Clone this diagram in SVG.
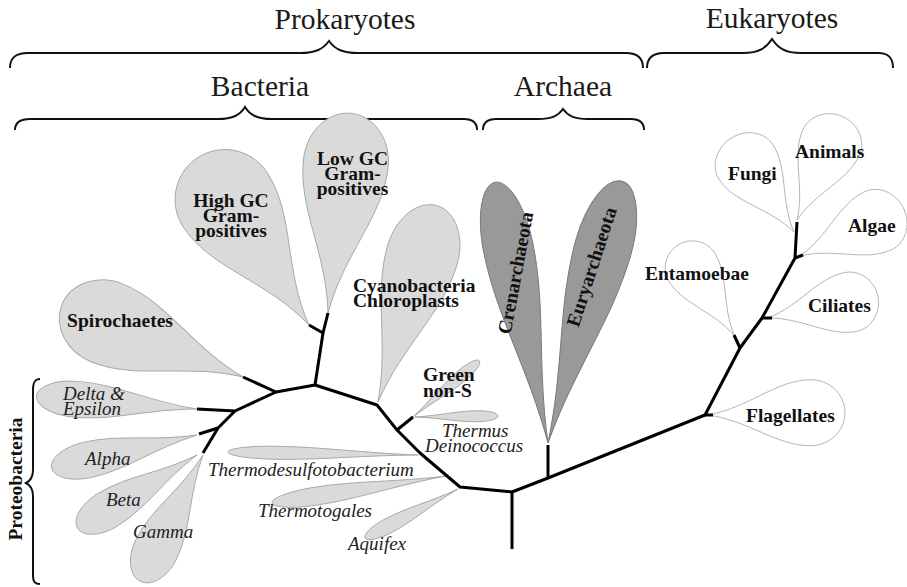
<svg xmlns="http://www.w3.org/2000/svg" width="907" height="587" viewBox="0 0 907 587">
  <style>
    .bg { fill: #ffffff; }
    .leaf { vector-effect: non-scaling-stroke; stroke-width: 1; }
    .leaf-b { fill: #dadada; stroke: #a8a8a8; }
    .leaf-a { fill: #999999; stroke: #7a7a7a; }
    .leaf-e { fill: #ffffff; stroke: #b4b4b4; }
    .branch { fill: none; stroke: #000000; stroke-width: 3; stroke-linejoin: round; stroke-linecap: butt; }
    .brace { fill: none; stroke: #111111; stroke-width: 2; }
    .title { font-family: "Liberation Serif", "Times New Roman", serif; font-size: 29.5px; fill: #1a1a1a; text-anchor: middle; }
    .bold { font-family: "Liberation Serif", "Times New Roman", serif; font-size: 19.5px; font-weight: bold; fill: #111111; }
    .ital { font-family: "Liberation Serif", "Times New Roman", serif; font-size: 19px; font-style: italic; fill: #222222; }
    .mid { text-anchor: middle; }
  </style>
  <rect class="bg" x="0" y="0" width="907" height="587"/>

  <!-- group braces and their titles -->
  <g id="prokaryotes">
    <path class="brace" d="M10,68 C10,58 15,53 28,53 L300,53 C316,53 323,49 329,41 C335,49 342,53 358,53 L626,53 C637,53 643,58 643,68"/>
    <text class="title" x="345" y="29">Prokaryotes</text>
  </g>
  <g id="eukaryotes">
    <path class="brace" d="M647,68 C647,58 652,53 664,53 L743,53 C759,53 766,48 772,39 C778,48 785,53 801,53 L878,53 C889,53 893,58 893,68"/>
    <text class="title" x="772" y="28">Eukaryotes</text>
  </g>
  <g id="bacteria">
    <path class="brace" d="M15,130 C15,123 19,119 30,119 L218,119 C233,119 240,115 245,107 C250,115 257,119 272,119 L464,119 C473,119 477,123 477,130"/>
    <text class="title" x="260" y="96">Bacteria</text>
  </g>
  <g id="archaea">
    <path class="brace" d="M483,130 C483,123 487,119 496,119 L538,119 C552,119 558,116 563,109 C568,116 574,119 588,119 L631,119 C640,119 644,123 644,130"/>
    <text class="title" x="563" y="96">Archaea</text>
  </g>
  <g id="proteobacteria">
    <path class="brace" d="M40,379 C35,379 33,382 33,390 L33,470 C33,477 30,481 26,483 C30,485 33,489 33,496 L33,575 C33,582 35,584 40,584"/>
    <text class="bold mid" transform="translate(22,479) rotate(-90)" x="0" y="0">Proteobacteria</text>
  </g>

  <!-- bacterial clades: each leaf is a unit teardrop (tip at origin, round end at x=1) placed by its transform -->
  <g id="spirochaetes">
    <path class="leaf leaf-b" transform="translate(243,377) rotate(-158.3) scale(195,84)" d="M0,0 C0.3,-0.1 0.5,-0.5 0.75,-0.5 C0.888,-0.5 1,-0.276 1,0 C1,0.276 0.888,0.5 0.75,0.5 C0.5,0.5 0.3,0.1 0,0 Z"/>
    <text class="bold mid" x="120" y="327">Spirochaetes</text>
  </g>
  <g id="high-gc">
    <path class="leaf leaf-b" transform="translate(309,325) rotate(-123.8) scale(201,100)" d="M0,0 C0.3,-0.1 0.5,-0.5 0.75,-0.5 C0.888,-0.5 1,-0.276 1,0 C1,0.276 0.888,0.5 0.75,0.5 C0.5,0.5 0.3,0.1 0,0 Z"/>
    <text class="bold mid" x="231" y="207">High GC</text>
    <text class="bold mid" x="231" y="222">Gram-</text>
    <text class="bold mid" x="231" y="237">positives</text>
  </g>
  <g id="low-gc">
    <path class="leaf leaf-b" transform="translate(328,313) rotate(-83.2) scale(201,85)" d="M0,0 C0.3,-0.1 0.5,-0.5 0.75,-0.5 C0.888,-0.5 1,-0.276 1,0 C1,0.276 0.888,0.5 0.75,0.5 C0.5,0.5 0.3,0.1 0,0 Z"/>
    <text class="bold mid" x="352.5" y="165">Low GC</text>
    <text class="bold mid" x="352.5" y="180">Gram-</text>
    <text class="bold mid" x="352.5" y="195">positives</text>
  </g>
  <g id="cyanobacteria">
    <path class="leaf leaf-b" transform="translate(378,402) rotate(-73.2) scale(205,72)" d="M0,0 C0.3,-0.1 0.5,-0.5 0.75,-0.5 C0.888,-0.5 1,-0.276 1,0 C1,0.276 0.888,0.5 0.75,0.5 C0.5,0.5 0.3,0.1 0,0 Z"/>
    <text class="bold" x="353" y="292">Cyanobacteria</text>
    <text class="bold" x="353" y="307">Chloroplasts</text>
  </g>
  <g id="green-non-s">
    <path class="leaf leaf-b" transform="translate(413,417) rotate(-40.3) scale(87,12)" d="M0,0 C0.3,-0.1 0.5,-0.5 0.75,-0.5 C0.888,-0.5 1,-0.276 1,0 C1,0.276 0.888,0.5 0.75,0.5 C0.5,0.5 0.3,0.1 0,0 Z"/>
    <text class="bold" x="423" y="381">Green</text>
    <text class="bold" x="423" y="397">non-S</text>
  </g>
  <g id="thermus">
    <path class="leaf leaf-b" transform="translate(415,417) rotate(-0.7) scale(83,11)" d="M0,0 C0.3,-0.1 0.5,-0.5 0.75,-0.5 C0.888,-0.5 1,-0.276 1,0 C1,0.276 0.888,0.5 0.75,0.5 C0.5,0.5 0.3,0.1 0,0 Z"/>
    <text class="ital" x="442" y="437">Thermus</text>
    <text class="ital" x="425" y="452">Deinococcus</text>
  </g>
  <g id="thermodesulfobacterium">
    <path class="leaf leaf-b" transform="translate(418,455) rotate(-179.1) scale(190,13)" d="M0,0 C0.3,-0.1 0.5,-0.5 0.75,-0.5 C0.888,-0.5 1,-0.276 1,0 C1,0.276 0.888,0.5 0.75,0.5 C0.5,0.5 0.3,0.1 0,0 Z"/>
    <text class="ital" x="208" y="476">Thermodesulfotobacterium</text>
  </g>
  <g id="thermotogales">
    <path class="leaf leaf-b" transform="translate(446,476) rotate(171.2) scale(176,18)" d="M0,0 C0.3,-0.1 0.5,-0.5 0.75,-0.5 C0.888,-0.5 1,-0.276 1,0 C1,0.276 0.888,0.5 0.75,0.5 C0.5,0.5 0.3,0.1 0,0 Z"/>
    <text class="ital" x="258" y="517">Thermotogales</text>
  </g>
  <g id="aquifex">
    <path class="leaf leaf-b" transform="translate(458,489) rotate(152.2) scale(105,15)" d="M0,0 C0.3,-0.1 0.5,-0.5 0.75,-0.5 C0.888,-0.5 1,-0.276 1,0 C1,0.276 0.888,0.5 0.75,0.5 C0.5,0.5 0.3,0.1 0,0 Z"/>
    <text class="ital" x="348" y="550">Aquifex</text>
  </g>
  <g id="delta-epsilon">
    <path class="leaf leaf-b" transform="translate(197,409) rotate(-175.4) scale(161,36)" d="M0,0 C0.3,-0.1 0.5,-0.5 0.75,-0.5 C0.888,-0.5 1,-0.276 1,0 C1,0.276 0.888,0.5 0.75,0.5 C0.5,0.5 0.3,0.1 0,0 Z"/>
    <text class="ital" x="63" y="400">Delta &amp;</text>
    <text class="ital" x="63" y="415">Epsilon</text>
  </g>
  <g id="alpha">
    <path class="leaf leaf-b" transform="translate(197,435) rotate(167.2) scale(149,36)" d="M0,0 C0.3,-0.1 0.5,-0.5 0.75,-0.5 C0.888,-0.5 1,-0.276 1,0 C1,0.276 0.888,0.5 0.75,0.5 C0.5,0.5 0.3,0.1 0,0 Z"/>
    <text class="ital" x="85" y="465">Alpha</text>
  </g>
  <g id="beta">
    <path class="leaf leaf-b" transform="translate(197,455) rotate(148.5) scale(140,38)" d="M0,0 C0.3,-0.1 0.5,-0.5 0.75,-0.5 C0.888,-0.5 1,-0.276 1,0 C1,0.276 0.888,0.5 0.75,0.5 C0.5,0.5 0.3,0.1 0,0 Z"/>
    <text class="ital" x="106" y="506">Beta</text>
  </g>
  <g id="gamma">
    <path class="leaf leaf-b" transform="translate(203,455) rotate(116.4) scale(141,45)" d="M0,0 C0.3,-0.1 0.5,-0.5 0.75,-0.5 C0.888,-0.5 1,-0.276 1,0 C1,0.276 0.888,0.5 0.75,0.5 C0.5,0.5 0.3,0.1 0,0 Z"/>
    <text class="ital" x="133" y="538">Gamma</text>
  </g>

  <!-- archaeal clades -->
  <g id="crenarchaeota">
    <path class="leaf leaf-a" transform="translate(548,443) rotate(-101.5) scale(266,50)" d="M0,0 C0.3,-0.1 0.5,-0.5 0.75,-0.5 C0.888,-0.5 1,-0.276 1,0 C1,0.276 0.888,0.5 0.75,0.5 C0.5,0.5 0.3,0.1 0,0 Z"/>
    <text class="bold mid" transform="translate(516,273) rotate(-79.4)" x="0" y="6">Crenarchaeota</text>
  </g>
  <g id="euryarchaeota">
    <path class="leaf leaf-a" transform="translate(548,443) rotate(-74.2) scale(272,57)" d="M0,0 C0.3,-0.1 0.5,-0.5 0.75,-0.5 C0.888,-0.5 1,-0.276 1,0 C1,0.276 0.888,0.5 0.75,0.5 C0.5,0.5 0.3,0.1 0,0 Z"/>
    <text class="bold mid" transform="translate(592,267) rotate(-72)" x="0" y="6">Euryarchaeota</text>
  </g>

  <!-- eukaryotic clades -->
  <g id="flagellates">
    <path class="leaf leaf-e" transform="translate(708,415) rotate(-1.3) scale(137,66)" d="M0,0 C0.3,-0.1 0.5,-0.5 0.75,-0.5 C0.888,-0.5 1,-0.276 1,0 C1,0.276 0.888,0.5 0.75,0.5 C0.5,0.5 0.3,0.1 0,0 Z"/>
    <text class="bold" x="746" y="422">Flagellates</text>
  </g>
  <g id="entamoebae">
    <path class="leaf leaf-e" transform="translate(734,335) rotate(-121.9) scale(106,54)" d="M0,0 C0.3,-0.1 0.5,-0.5 0.75,-0.5 C0.888,-0.5 1,-0.276 1,0 C1,0.276 0.888,0.5 0.75,0.5 C0.5,0.5 0.3,0.1 0,0 Z"/>
    <text class="bold" x="645" y="280">Entamoebae</text>
  </g>
  <g id="ciliates">
    <path class="leaf leaf-e" transform="translate(768,318) rotate(-11) scale(112,60)" d="M0,0 C0.3,-0.1 0.5,-0.5 0.75,-0.5 C0.888,-0.5 1,-0.276 1,0 C1,0.276 0.888,0.5 0.75,0.5 C0.5,0.5 0.3,0.1 0,0 Z"/>
    <text class="bold" x="808" y="312">Ciliates</text>
  </g>
  <g id="algae">
    <path class="leaf leaf-e" transform="translate(800,256) rotate(-24.3) scale(114,64)" d="M0,0 C0.3,-0.1 0.5,-0.5 0.75,-0.5 C0.888,-0.5 1,-0.276 1,0 C1,0.276 0.888,0.5 0.75,0.5 C0.5,0.5 0.3,0.1 0,0 Z"/>
    <text class="bold" x="848" y="232">Algae</text>
  </g>
  <g id="fungi">
    <path class="leaf leaf-e" transform="translate(794,232) rotate(-124.5) scale(113,64)" d="M0,0 C0.3,-0.1 0.5,-0.5 0.75,-0.5 C0.888,-0.5 1,-0.276 1,0 C1,0.276 0.888,0.5 0.75,0.5 C0.5,0.5 0.3,0.1 0,0 Z"/>
    <text class="bold" x="728" y="180">Fungi</text>
  </g>
  <g id="animals">
    <path class="leaf leaf-e" transform="translate(797,220) rotate(-66.25) scale(113,62)" d="M0,0 C0.3,-0.1 0.5,-0.5 0.75,-0.5 C0.888,-0.5 1,-0.276 1,0 C1,0.276 0.888,0.5 0.75,0.5 C0.5,0.5 0.3,0.1 0,0 Z"/>
    <text class="bold" x="795" y="158">Animals</text>
  </g>

  <!-- tree branches -->
  <g id="connectors">
    <path class="branch" d="M235,411 L276,392 L315,385 L377,405 L397,430 L420,453 L460,487 L512,492 L548,478 L705,415 L740,348 L762,318 L795,258 L797,222"/>
    <path class="branch" d="M235,411 L218,428 L203,453"/>
    <path class="branch" d="M197,409 L235,411"/>
    <path class="branch" d="M218,428 L199,434"/>
    <path class="branch" d="M243,377 L276,392"/>
    <path class="branch" d="M315,385 L323,333"/>
    <path class="branch" d="M309,325 L323,333 L328,313"/>
    <path class="branch" d="M397,430 L413,417"/>
    <path class="branch" d="M548,478 L548,445"/>
    <path class="branch" d="M512,492 L512,549"/>
    <path class="branch" d="M705,415 L713,415"/>
    <path class="branch" d="M740,348 L734,335"/>
    <path class="branch" d="M762,318 L772,318"/>
    <path class="branch" d="M795,258 L803,255"/>
  </g>
</svg>
